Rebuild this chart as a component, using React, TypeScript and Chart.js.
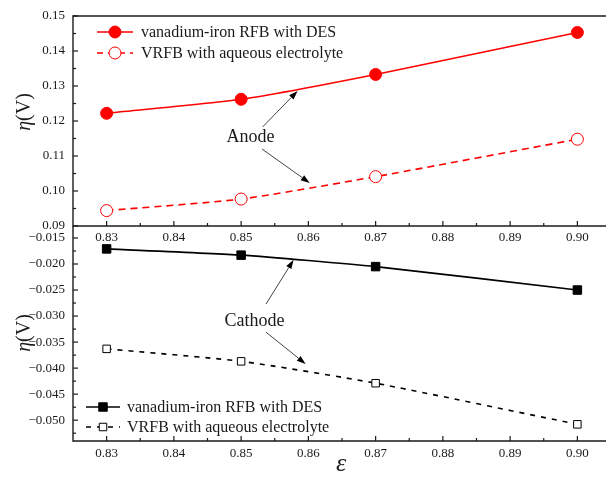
import React, { useEffect, useRef } from "react";
import { Chart, registerables } from "chart.js";

Chart.register(...registerables);

// ---------- data ----------
const epsilon = [0.83, 0.85, 0.87, 0.9];
const anodeDES = [0.1222, 0.1262, 0.1333, 0.1453];
const anodeAqueous = [0.0944, 0.0977, 0.1041, 0.1148];
const cathodeDES = [-0.0171, -0.0183, -0.0205, -0.025];
const cathodeAqueous = [-0.0363, -0.0387, -0.0429, -0.0508];
const seriesNames = ["vanadium-iron RFB with DES", "VRFB with aqueous electrolyte"];
const anodeLabel = "Anode";
const cathodeLabel = "Cathode";
const xRange = [0.825, 0.905];
const xTickValues = [0.83, 0.84, 0.85, 0.86, 0.87, 0.88, 0.89, 0.9];
const anodeRange = [0.09, 0.15];
const anodeTickValues = [0.09, 0.1, 0.11, 0.12, 0.13, 0.14, 0.15];
const cathodeRange = [-0.054, -0.0127];
const cathodeTickValues = [-0.05, -0.045, -0.04, -0.035, -0.03, -0.025, -0.02, -0.015];
// annotation anchors in data coordinates
const anodeTextPos = [0.8514, 0.1154];
const anodeArrows = [
  [0.8532, 0.1183, 0.8584, 0.1286],
  [0.8531, 0.112, 0.8602, 0.1023],
];
const cathodeTextPos = [0.852, -0.031];
const cathodeArrows = [
  [0.8537, -0.0277, 0.8578, -0.0192],
  [0.8537, -0.0331, 0.8596, -0.0392],
];

const FONT = "'Liberation Serif', 'Times New Roman', serif";
const RED = "#ff0000";
const INK = "#1a1a1a";
const CANVAS_W = 618;

type LegendItem = {
  label: string;
  color: string;
  dash: number[];
  style: "circle" | "rect";
  filled: boolean;
  radius: number;
};

function drawArrow(ctx: CanvasRenderingContext2D, x1: number, y1: number, x2: number, y2: number) {
  const a = Math.atan2(y2 - y1, x2 - x1);
  const hl = 9;
  const hw = 3;
  const bx = x2 - hl * Math.cos(a);
  const by = y2 - hl * Math.sin(a);
  ctx.save();
  ctx.setLineDash([]);
  ctx.strokeStyle = "#444";
  ctx.lineWidth = 1;
  ctx.beginPath();
  ctx.moveTo(x1, y1);
  ctx.lineTo(bx, by);
  ctx.stroke();
  ctx.fillStyle = "#000";
  ctx.beginPath();
  ctx.moveTo(x2, y2);
  ctx.lineTo(bx - hw * Math.sin(a), by + hw * Math.cos(a));
  ctx.lineTo(bx + hw * Math.sin(a), by - hw * Math.cos(a));
  ctx.closePath();
  ctx.fill();
  ctx.restore();
}

function drawMarker(ctx: CanvasRenderingContext2D, it: LegendItem, x: number, y: number) {
  ctx.save();
  ctx.setLineDash([]);
  ctx.lineWidth = 1;
  ctx.strokeStyle = it.color;
  ctx.fillStyle = it.filled ? it.color : "#fff";
  ctx.beginPath();
  if (it.style === "circle") {
    ctx.arc(x, y, it.radius, 0, Math.PI * 2);
  } else {
    const s = it.radius * Math.SQRT1_2;
    ctx.rect(x - s, y - s, 2 * s, 2 * s);
  }
  ctx.fill();
  ctx.stroke();
  ctx.restore();
}

type DecorCfg = {
  topBorder: boolean;
  legend: LegendItem[];
  legendPos: (ca: any) => { x0: number; w: number; tx: number; ys: number[] };
  text: string;
  textPos: number[];
  arrows: number[][];
  yTitleY: (ca: any) => number;
  xTitle: boolean;
};

function makeDecor(cfg: DecorCfg) {
  return {
    id: "decor",
    afterDraw(chart: any) {
      const { ctx, chartArea: ca } = chart;
      const xs = chart.scales.x;
      const ys = chart.scales.y;
      ctx.save();
      ctx.strokeStyle = INK;
      ctx.lineWidth = 1.4;
      ctx.setLineDash([]);
      const line = (a: number, b: number, c: number, d: number) => {
        ctx.beginPath();
        ctx.moveTo(a, b);
        ctx.lineTo(c, d);
        ctx.stroke();
      };
      line(ca.left, ca.top - (cfg.topBorder ? 0.7 : 0), ca.left, ca.bottom + 0.7);
      line(ca.left, ca.bottom, ca.right, ca.bottom);
      if (cfg.topBorder) line(ca.left, ca.top, ca.right, ca.top);
      ctx.lineWidth = 1.2;
      // y ticks
      const yt = ys.ticks.map((t: any) => t.value);
      const ystep = yt[1] - yt[0];
      yt.forEach((v: number) => {
        const p = ys.getPixelForValue(v);
        line(ca.left, p, ca.left + 5, p);
      });
      for (let i = -1; i < yt.length; i++) {
        const v = yt[0] + (i + 0.5) * ystep;
        if (v > ys.min + 1e-9 && v < ys.max - 1e-9) {
          const p = ys.getPixelForValue(v);
          line(ca.left, p, ca.left + 3, p);
        }
      }
      // x ticks
      const xt = xs.ticks.map((t: any) => t.value);
      const xstep = xt[1] - xt[0];
      xt.forEach((v: number) => {
        const p = xs.getPixelForValue(v);
        line(p, ca.bottom, p, ca.bottom - 5);
      });
      for (let i = -1; i < xt.length; i++) {
        const v = xt[0] + (i + 0.5) * xstep;
        if (v > xs.min + 1e-9 && v < xs.max - 1e-9) {
          const p = xs.getPixelForValue(v);
          line(p, ca.bottom, p, ca.bottom - 3);
        }
      }

      // y title η(V)
      ctx.save();
      ctx.translate(25, cfg.yTitleY(ca));
      ctx.rotate(-Math.PI / 2);
      ctx.fillStyle = INK;
      ctx.textBaseline = "middle";
      ctx.font = `italic 20px ${FONT}`;
      const w1 = ctx.measureText("η").width;
      ctx.font = `20px ${FONT}`;
      const w2 = ctx.measureText("(V)").width;
      const start = -(w1 + w2) / 2;
      ctx.font = `italic 20px ${FONT}`;
      ctx.textAlign = "left";
      ctx.fillText("η", start, 0);
      ctx.font = `20px ${FONT}`;
      ctx.fillText("(V)", start + w1, 0);
      ctx.restore();

      // x title ε
      if (cfg.xTitle) {
        ctx.fillStyle = INK;
        ctx.font = `italic 26px ${FONT}`;
        ctx.textAlign = "center";
        ctx.textBaseline = "middle";
        ctx.fillText("ε", 341, ca.bottom + 23);
      }

      // annotation
      ctx.fillStyle = INK;
      ctx.font = `18px ${FONT}`;
      ctx.textAlign = "center";
      ctx.textBaseline = "middle";
      ctx.fillText(cfg.text, xs.getPixelForValue(cfg.textPos[0]), ys.getPixelForValue(cfg.textPos[1]));
      cfg.arrows.forEach((a) =>
        drawArrow(
          ctx,
          xs.getPixelForValue(a[0]),
          ys.getPixelForValue(a[1]),
          xs.getPixelForValue(a[2]),
          ys.getPixelForValue(a[3])
        )
      );

      // legend
      const lp = cfg.legendPos(ca);
      cfg.legend.forEach((it, i) => {
        const y = lp.ys[i];
        ctx.save();
        ctx.strokeStyle = it.color;
        ctx.lineWidth = 1.6;
        ctx.setLineDash(it.dash);
        line(lp.x0, y, lp.x0 + lp.w, y);
        ctx.restore();
        drawMarker(ctx, it, lp.x0 + lp.w / 2, y);
        ctx.fillStyle = INK;
        ctx.font = `16px ${FONT}`;
        ctx.textAlign = "left";
        ctx.textBaseline = "middle";
        ctx.fillText(it.label, lp.tx, y + 1);
      });
      ctx.restore();
    },
  };
}

function tickFont() {
  return { family: FONT, size: 13 };
}

function buildConfig(
  dsA: number[],
  dsB: number[],
  color: string,
  style: "circle" | "rect",
  radiusA: number,
  radiusB: number,
  dashB: number[],
  yRange: number[],
  yTicks: number[],
  yDigits: number,
  xAxisHeight: number,
  xPad: number,
  decor: DecorCfg
): any {
  return {
    type: "line",
    data: {
      datasets: [
        {
          label: seriesNames[0],
          data: epsilon.map((x, i) => ({ x, y: dsA[i] })),
          borderColor: color,
          backgroundColor: color,
          borderWidth: 1.6,
          pointStyle: style,
          pointRadius: radiusA,
          pointBackgroundColor: color,
          pointBorderColor: color,
          pointBorderWidth: 1,
          tension: 0.2,
        },
        {
          label: seriesNames[1],
          data: epsilon.map((x, i) => ({ x, y: dsB[i] })),
          borderColor: color,
          backgroundColor: "#fff",
          borderWidth: 1.6,
          borderDash: dashB,
          pointStyle: style,
          pointRadius: radiusB,
          pointBackgroundColor: "#fff",
          pointBorderColor: color,
          pointBorderWidth: 1,
          tension: 0.2,
        },
      ],
    },
    options: {
      responsive: false,
      maintainAspectRatio: false,
      animation: false,
      layout: { padding: { top: 16, left: 0, right: 0, bottom: 0 } },
      plugins: { legend: { display: false }, tooltip: { enabled: false } },
      scales: {
        x: {
          type: "linear",
          min: xRange[0],
          max: xRange[1],
          afterBuildTicks: (s: any) => {
            s.ticks = xTickValues.map((v) => ({ value: v }));
          },
          afterFit: (s: any) => {
            s.height = xAxisHeight;
          },
          grid: { display: false, drawTicks: false },
          border: { display: false },
          ticks: {
            autoSkip: false,
            maxRotation: 0,
            padding: xPad,
            color: INK,
            font: tickFont(),
            callback: (v: any) => Number(v).toFixed(2),
          },
        },
        y: {
          type: "linear",
          min: yRange[0],
          max: yRange[1],
          afterBuildTicks: (s: any) => {
            s.ticks = yTicks.map((v) => ({ value: v }));
          },
          afterFit: (s: any) => {
            s.width = 73;
          },
          grid: { display: false, drawTicks: false },
          border: { display: false },
          ticks: {
            autoSkip: false,
            padding: 8,
            color: INK,
            font: tickFont(),
            callback: (v: any) => {
              const n = Number(v);
              return (n < 0 ? "\u2212" : "") + Math.abs(n).toFixed(yDigits);
            },
          },
        },
      },
    },
    plugins: [makeDecor(decor)],
  };
}

export default function App() {
  const topRef = useRef<HTMLCanvasElement>(null);
  const botRef = useRef<HTMLCanvasElement>(null);

  useEffect(() => {
    const top = new Chart(
      topRef.current as HTMLCanvasElement,
      buildConfig(
        anodeDES,
        anodeAqueous,
        RED,
        "circle",
        6,
        6,
        [7, 5],
        anodeRange,
        anodeTickValues,
        2,
        24,
        4,
        {
          topBorder: true,
          legend: [
            { label: seriesNames[0], color: RED, dash: [], style: "circle", filled: true, radius: 6 },
            { label: seriesNames[1], color: RED, dash: [6, 5], style: "circle", filled: false, radius: 6 },
          ],
          legendPos: (ca: any) => ({ x0: ca.left + 24, w: 36, tx: ca.left + 68, ys: [ca.top + 16, ca.top + 37] }),
          text: anodeLabel,
          textPos: anodeTextPos,
          arrows: anodeArrows,
          yTitleY: (ca: any) => ca.top + 96,
          xTitle: false,
        }
      )
    );
    const bot = new Chart(
      botRef.current as HTMLCanvasElement,
      buildConfig(
        cathodeDES,
        cathodeAqueous,
        "#000",
        "rect",
        6,
        5.3,
        [5, 6],
        cathodeRange,
        cathodeTickValues,
        3,
        38,
        5,
        {
          topBorder: false,
          legend: [
            { label: seriesNames[0], color: "#000", dash: [], style: "rect", filled: true, radius: 6 },
            { label: seriesNames[1], color: "#000", dash: [5, 6], style: "rect", filled: false, radius: 5.3 },
          ],
          legendPos: (ca: any) => ({ x0: ca.left + 13, w: 34, tx: ca.left + 54, ys: [ca.bottom - 34, ca.bottom - 14] }),
          text: cathodeLabel,
          textPos: cathodeTextPos,
          arrows: cathodeArrows,
          yTitleY: (ca: any) => ca.top + 107,
          xTitle: true,
        }
      )
    );
    return () => {
      top.destroy();
      bot.destroy();
    };
  }, []);

  return (
    <div
      style={{
        position: "fixed",
        left: 0,
        top: 0,
        width: 606,
        height: 479,
        overflow: "hidden",
        background: "#fff",
      }}
    >
      <canvas
        ref={topRef}
        width={CANVAS_W}
        height={250}
        style={{ position: "absolute", left: 0, top: 0, width: CANVAS_W, height: 250 }}
      />
      <canvas
        ref={botRef}
        width={CANVAS_W}
        height={269}
        style={{ position: "absolute", left: 0, top: 210, width: CANVAS_W, height: 269 }}
      />
    </div>
  );
}
